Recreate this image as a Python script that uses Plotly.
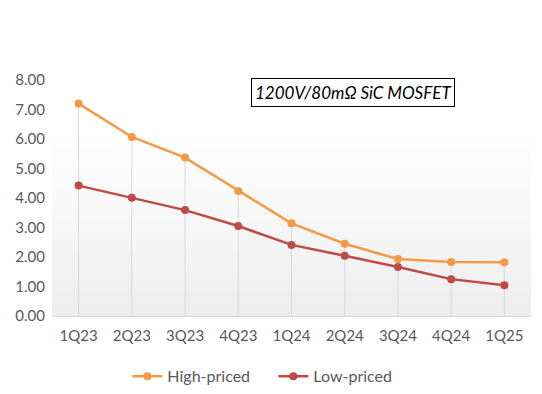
import plotly.graph_objects as go

quarters = ["1Q23", "2Q23", "3Q23", "4Q23", "1Q24", "2Q24", "3Q24", "4Q24", "1Q25"]
high_priced = [7.20, 6.07, 5.37, 4.24, 3.14, 2.45, 1.93, 1.83, 1.82]
low_priced = [4.42, 4.01, 3.59, 3.05, 2.41, 2.04, 1.66, 1.25, 1.04]
y_ticks = [0, 1, 2, 3, 4, 5, 6, 7, 8]
title_text = "1200V/80mΩ SiC MOSFET"

FONT = "Lato"
fig = go.Figure()

# subtle translucent vertical gradient over the plot area (decoration, on hidden base axes)
fig.add_trace(go.Scatter(
    x=[0, 1, 1, 0, 0], y=[0, 0, 1, 1, 0], xaxis="x", yaxis="y",
    mode="lines", line=dict(width=0), fill="toself",
    fillgradient=dict(type="vertical",
                      colorscale=[[0, "rgba(0,0,0,0.07)"], [0.78, "rgba(0,0,0,0)"], [1, "rgba(0,0,0,0)"]]),
    hoverinfo="skip", showlegend=False,
))

# drop lines from the high-priced series down to the axis
fig.add_trace(go.Scatter(
    x=quarters, y=high_priced, mode="markers", xaxis="x2", yaxis="y2",
    marker=dict(size=1, color="rgba(0,0,0,0)"),
    error_y=dict(type="data", symmetric=False, array=[0] * len(high_priced),
                 arrayminus=high_priced, color="#D9D9D9", thickness=1, width=0),
    hoverinfo="skip", showlegend=False,
))

fig.add_trace(go.Scatter(
    x=quarters, y=high_priced, name="High-priced", mode="lines+markers", xaxis="x2", yaxis="y2",
    line=dict(color="#F39A44", width=2.5), marker=dict(size=8, color="#F39A44"),
))
fig.add_trace(go.Scatter(
    x=quarters, y=low_priced, name="Low-priced", mode="lines+markers", xaxis="x2", yaxis="y2",
    line=dict(color="#BE4B48", width=2.5), marker=dict(size=8, color="#BE4B48"),
))

fig.update_layout(
    width=542, height=394,
    margin=dict(l=52, r=11, t=80, b=78),
    paper_bgcolor="white", plot_bgcolor="white",
    font=dict(family=FONT, size=15, color="#595959"),
    xaxis=dict(range=[0, 1], visible=False, fixedrange=True, automargin=False),
    yaxis=dict(range=[0, 1], visible=False, fixedrange=True, automargin=False),
    xaxis2=dict(
        overlaying="x", type="category", showgrid=False,
        showline=True, linecolor="#D9D9D9", linewidth=1, ticks="",
        tickfont=dict(family=FONT, size=15, color="#595959"),
        range=[-0.5, 8.5], ticklabelstandoff=6, anchor="y2", automargin=False,
    ),
    yaxis2=dict(
        overlaying="y", range=[0, 8], tickvals=y_ticks, tickformat=".2f", showgrid=False,
        zeroline=False, showline=False, ticks="", side="left", anchor="x2", automargin=False,
        tickfont=dict(family=FONT, size=15, color="#595959"), ticklabelstandoff=6,
    ),
    legend=dict(
        orientation="h", xref="container", x=0.235, xanchor="left",
        yref="container", y=0.045, yanchor="middle",
        font=dict(family=FONT, size=16, color="#595959"),
        entrywidth=101, entrywidthmode="pixels", tracegroupgap=0,
    ),
    showlegend=True,
    annotations=[dict(
        text="<i>" + title_text + "</i>", xref="paper", yref="paper",
        x=0.628, y=0.945, xanchor="center", yanchor="middle", showarrow=False,
        font=dict(family=FONT, size=17, color="black"),
        bordercolor="black", borderwidth=1, borderpad=3, bgcolor="white",
    )],
)

fig.write_html("out.html", config={"displayModeBar": False},
               post_script="document.body.style.margin='0';")
